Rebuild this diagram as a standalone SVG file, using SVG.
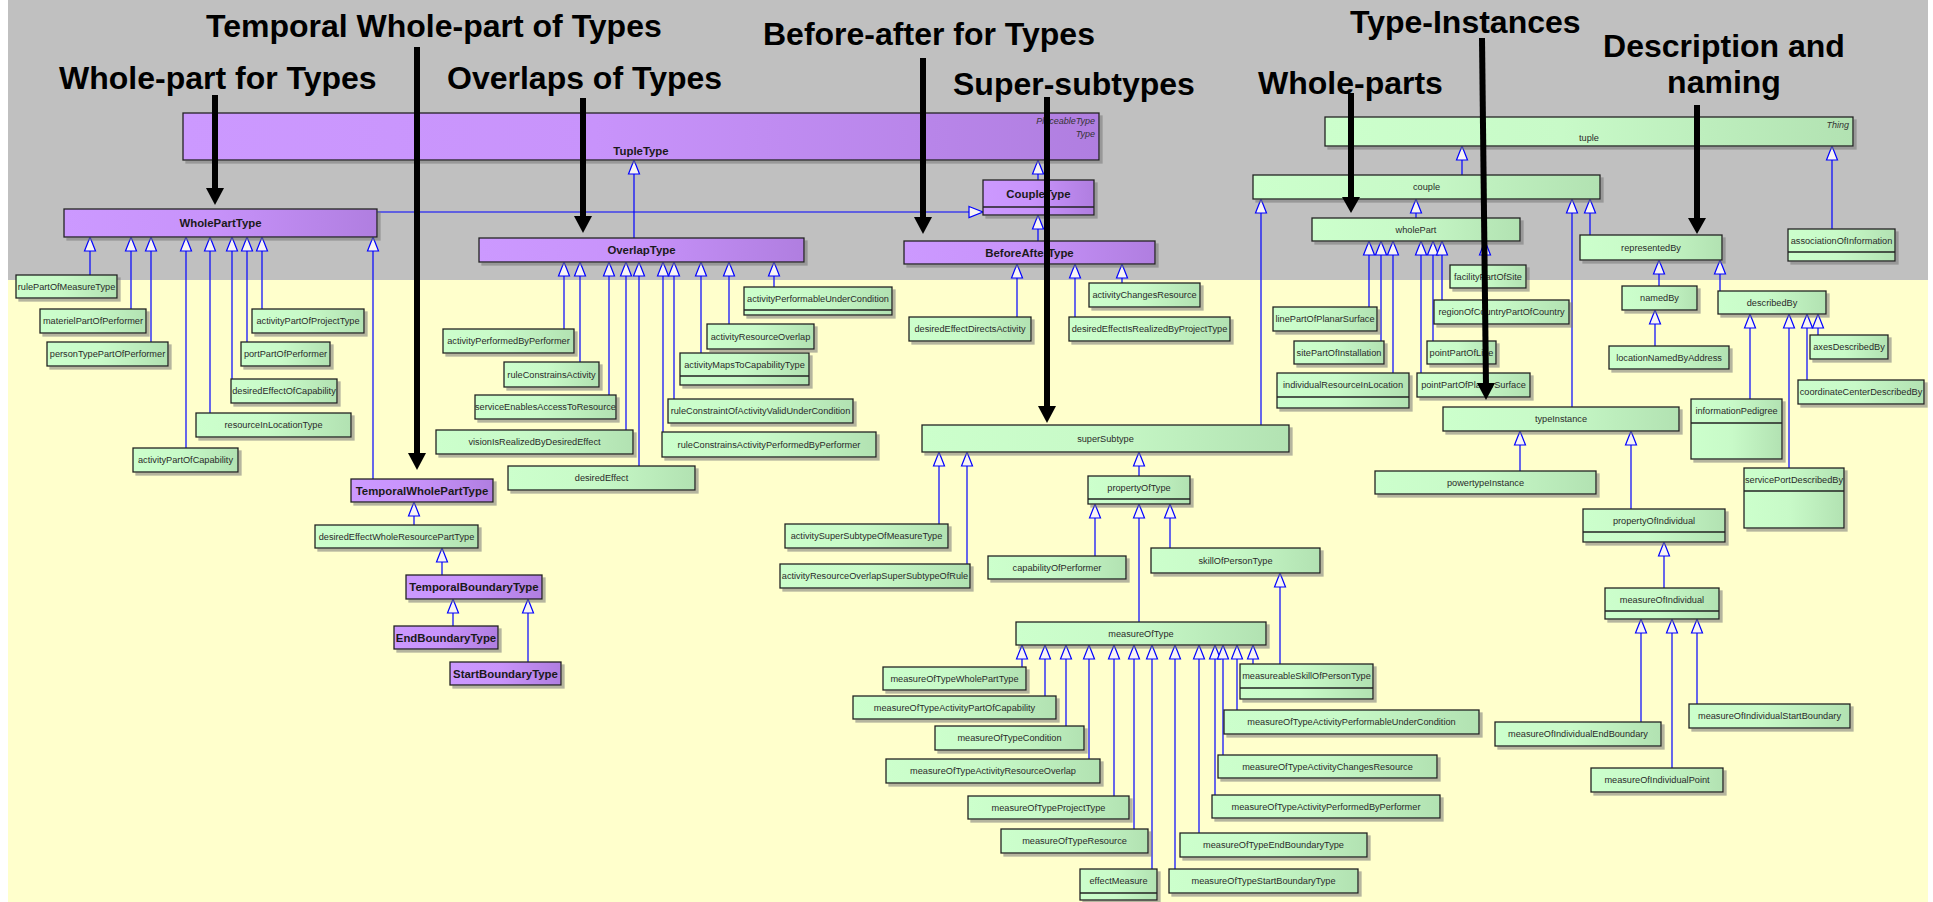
<svg xmlns="http://www.w3.org/2000/svg" width="1933" height="902" viewBox="0 0 1933 902">
<style>
  .p { fill: url(#gp); stroke: #222; stroke-width: 1.3; filter: url(#sh); }
  .g { fill: url(#gg); stroke: #222; stroke-width: 1.3; filter: url(#sh); }
  .dv { stroke: #222; stroke-width: 1.3; }
  .lb { font-family: "Liberation Sans", Arial, sans-serif; font-weight: bold; font-size: 11.4px; fill: #1a1a1a; text-anchor: middle; }
  .lg { font-family: "Liberation Sans", Arial, sans-serif; font-size: 9.2px; fill: #2a2a2a; text-anchor: middle; }
  .st { font-family: "Liberation Sans", Arial, sans-serif; font-style: italic; font-size: 9px; fill: #333; text-anchor: end; }
  .e { fill: none; stroke: #0000ff; stroke-width: 1.2; marker-end: url(#gen); }
  .title { font-family: "Liberation Sans", Arial, sans-serif; font-weight: bold; font-size: 32px; fill: #000; }
  .call { stroke: #000; stroke-width: 6; fill: none; }
  .head { fill: #000; }
</style>
<defs>
  <linearGradient id="gp" x1="0" y1="0" x2="1" y2="0">
    <stop offset="0" stop-color="#cc99ff"/>
    <stop offset="0.45" stop-color="#c893fb"/>
    <stop offset="1" stop-color="#b07ee0"/>
  </linearGradient>
  <linearGradient id="gg" x1="0" y1="0" x2="1" y2="0">
    <stop offset="0" stop-color="#ccffcc"/>
    <stop offset="0.45" stop-color="#c8fac8"/>
    <stop offset="1" stop-color="#b2e2b2"/>
  </linearGradient>
  <filter id="sh" x="-5%" y="-20%" width="115%" height="170%">
    <feDropShadow dx="3" dy="3" stdDeviation="0.6" flood-color="#777" flood-opacity="0.55"/>
  </filter>
  <!-- hollow generalization triangle -->
  <marker id="gen" markerUnits="userSpaceOnUse" markerWidth="16" markerHeight="14" viewBox="-1 -7 16 14" refX="14" refY="0" orient="auto">
    <path d="M0,-5.5 L14,0 L0,5.5 Z" fill="#f8f4f4" stroke="#0000ff" stroke-width="1.2"/>
  </marker>
</defs>

<!-- backdrop -->
<rect x="0" y="0" width="1933" height="902" fill="#ffffff"/>
<rect x="8" y="0" width="1920" height="280" fill="#c0c0c0"/>
<rect x="8" y="280" width="1920" height="622" fill="#ffffcc"/>

<!-- connectors -->
<g id="connectors">
  <path class="e" d="M377,212 H983"/>
  <path class="e" d="M90,275 V237"/>
  <path class="e" d="M131,309 V237"/>
  <path class="e" d="M151,342 V237"/>
  <path class="e" d="M186,448 V237"/>
  <path class="e" d="M210,413 V237"/>
  <path class="e" d="M232,379 V237"/>
  <path class="e" d="M247,342 V237"/>
  <path class="e" d="M262,309 V237"/>
  <path class="e" d="M373,479 V237"/>
  <path class="e" d="M414,525 V502"/>
  <path class="e" d="M442,575 V548"/>
  <path class="e" d="M453,626 V599"/>
  <path class="e" d="M528,662 V599"/>
  <path class="e" d="M634,238 V160"/>
  <path class="e" d="M1038,180 V160"/>
  <path class="e" d="M1038,241 V215"/>
  <path class="e" d="M564,329 V262"/>
  <path class="e" d="M580,362 V262"/>
  <path class="e" d="M609,395 V262"/>
  <path class="e" d="M626,430 V262"/>
  <path class="e" d="M639,466 V262"/>
  <path class="e" d="M663,432 V262"/>
  <path class="e" d="M674,399 V262"/>
  <path class="e" d="M701,353 V262"/>
  <path class="e" d="M729,324 V262"/>
  <path class="e" d="M774,287 V262"/>
  <path class="e" d="M1017,317 V264"/>
  <path class="e" d="M1075,317 V264"/>
  <path class="e" d="M1122,283 V264"/>
  <path class="e" d="M1462,175 V146"/>
  <path class="e" d="M1832,229 V146"/>
  <path class="e" d="M1261,425 V199"/>
  <path class="e" d="M1416,218 V199"/>
  <path class="e" d="M1572,407 V199"/>
  <path class="e" d="M1590,235 V199"/>
  <path class="e" d="M1369,307 V241"/>
  <path class="e" d="M1381,341 V241"/>
  <path class="e" d="M1393,373 V241"/>
  <path class="e" d="M1421,373 V241"/>
  <path class="e" d="M1433,341 V241"/>
  <path class="e" d="M1442,300 V241"/>
  <path class="e" d="M1485,265 V241"/>
  <path class="e" d="M939,524 V452"/>
  <path class="e" d="M967,564 V452"/>
  <path class="e" d="M1139,476 V452"/>
  <path class="e" d="M1095,556 V504"/>
  <path class="e" d="M1139,622 V504"/>
  <path class="e" d="M1170,548 V504"/>
  <path class="e" d="M1280,664 V573"/>
  <path class="e" d="M1022,667 V645"/>
  <path class="e" d="M1045,696 V645"/>
  <path class="e" d="M1066,726 V645"/>
  <path class="e" d="M1089,759 V645"/>
  <path class="e" d="M1114,796 V645"/>
  <path class="e" d="M1134,829 V645"/>
  <path class="e" d="M1152,869 V645"/>
  <path class="e" d="M1175,869 V645"/>
  <path class="e" d="M1199,833 V645"/>
  <path class="e" d="M1215,795 V645"/>
  <path class="e" d="M1223,755 V645"/>
  <path class="e" d="M1237,710 V645"/>
  <path class="e" d="M1253,664 V645"/>
  <path class="e" d="M1520,471 V431"/>
  <path class="e" d="M1631,509 V431"/>
  <path class="e" d="M1664,588 V542"/>
  <path class="e" d="M1641,722 V619"/>
  <path class="e" d="M1672,768 V619"/>
  <path class="e" d="M1697,704 V619"/>
  <path class="e" d="M1659,286 V260"/>
  <path class="e" d="M1720,291 V260"/>
  <path class="e" d="M1655,346 V310"/>
  <path class="e" d="M1750,399 V314"/>
  <path class="e" d="M1789,468 V314"/>
  <path class="e" d="M1807,380 V314"/>
  <path class="e" d="M1818,335 V314"/>
</g>

<!-- type-level (purple) classes -->
<g id="TupleType"><rect class="p" x="183" y="113" width="916" height="47"/>
  <text class="st" x="1095" y="124">PlaceableType</text><text class="st" x="1095" y="137">Type</text>
  <text class="lb" x="641" y="155">TupleType</text></g>
<g id="WholePartType"><rect class="p" x="64" y="209" width="313" height="28"/><text class="lb" x="220.5" y="227">WholePartType</text></g>
<g id="OverlapType"><rect class="p" x="479" y="238" width="325" height="24"/><text class="lb" x="641.5" y="254">OverlapType</text></g>
<g id="CoupleType"><rect class="p" x="983" y="180" width="111" height="35"/><line class="dv" x1="983" y1="207" x2="1094" y2="207"/><text class="lb" x="1038.5" y="197.5">CoupleType</text></g>
<g id="BeforeAfterType"><rect class="p" x="904" y="241" width="251" height="23"/><text class="lb" x="1029.5" y="256.5">BeforeAfterType</text></g>
<g id="TemporalWholePartType"><rect class="p" x="351" y="479" width="142" height="23"/><text class="lb" x="422" y="494.5">TemporalWholePartType</text></g>
<g id="TemporalBoundaryType"><rect class="p" x="406" y="575" width="136" height="24"/><text class="lb" x="474" y="591">TemporalBoundaryType</text></g>
<g id="EndBoundaryType"><rect class="p" x="394" y="626" width="104" height="23"/><text class="lb" x="446" y="641.5">EndBoundaryType</text></g>
<g id="StartBoundaryType"><rect class="p" x="450" y="662" width="111" height="23"/><text class="lb" x="505.5" y="677.5">StartBoundaryType</text></g>

<!-- whole-part of types -->
<g id="rulePartOfMeasureType"><rect class="g" x="16" y="275" width="101" height="23"/><text class="lg" x="66.5" y="289.8">rulePartOfMeasureType</text></g>
<g id="materielPartOfPerformer"><rect class="g" x="40" y="309" width="106" height="24"/><text class="lg" x="93" y="324.3">materielPartOfPerformer</text></g>
<g id="personTypePartOfPerformer"><rect class="g" x="47" y="342" width="121" height="24"/><text class="lg" x="107.5" y="357.3">personTypePartOfPerformer</text></g>
<g id="activityPartOfProjectType"><rect class="g" x="252" y="309" width="112" height="24"/><text class="lg" x="308" y="324.3">activityPartOfProjectType</text></g>
<g id="portPartOfPerformer"><rect class="g" x="241" y="342" width="89" height="24"/><text class="lg" x="285.5" y="357.3">portPartOfPerformer</text></g>
<g id="desiredEffectOfCapability"><rect class="g" x="231" y="379" width="106" height="24"/><text class="lg" x="284" y="394.3">desiredEffectOfCapability</text></g>
<g id="resourceInLocationType"><rect class="g" x="196" y="413" width="155" height="24"/><text class="lg" x="273.5" y="428.3">resourceInLocationType</text></g>
<g id="activityPartOfCapability"><rect class="g" x="133" y="448" width="105" height="24"/><text class="lg" x="185.5" y="463.3">activityPartOfCapability</text></g>
<g id="desiredEffectWholeResourcePartType"><rect class="g" x="315" y="525" width="163" height="23"/><text class="lg" x="396.5" y="539.8">desiredEffectWholeResourcePartType</text></g>

<!-- overlaps of types -->
<g id="activityPerformableUnderCondition"><rect class="g" x="744" y="287" width="148" height="28"/><line class="dv" x1="744" y1="310" x2="892" y2="310"/><text class="lg" x="818" y="301.8">activityPerformableUnderCondition</text></g>
<g id="activityPerformedByPerformer"><rect class="g" x="443" y="329" width="131" height="24"/><text class="lg" x="508.5" y="344.3">activityPerformedByPerformer</text></g>
<g id="ruleConstrainsActivity"><rect class="g" x="504" y="362" width="95" height="25"/><text class="lg" x="551.5" y="377.8">ruleConstrainsActivity</text></g>
<g id="serviceEnablesAccessToResource"><rect class="g" x="475" y="395" width="141" height="24"/><text class="lg" x="545.5" y="410.3">serviceEnablesAccessToResource</text></g>
<g id="visionIsRealizedByDesiredEffect"><rect class="g" x="436" y="430" width="197" height="24"/><text class="lg" x="534.5" y="445.3">visionIsRealizedByDesiredEffect</text></g>
<g id="desiredEffect"><rect class="g" x="508" y="466" width="187" height="24"/><text class="lg" x="601.5" y="481.3">desiredEffect</text></g>
<g id="ruleConstrainsActivityPerformedByPerformer"><rect class="g" x="662" y="432" width="214" height="25"/><text class="lg" x="769" y="447.8">ruleConstrainsActivityPerformedByPerformer</text></g>
<g id="ruleConstraintOfActivityValidUnderCondition"><rect class="g" x="668" y="399" width="185" height="24"/><text class="lg" x="760.5" y="414.3">ruleConstraintOfActivityValidUnderCondition</text></g>
<g id="activityMapsToCapabilityType"><rect class="g" x="680" y="353" width="129" height="32"/><line class="dv" x1="680" y1="376" x2="809" y2="376"/><text class="lg" x="744.5" y="367.8">activityMapsToCapabilityType</text></g>
<g id="activityResourceOverlap"><rect class="g" x="707" y="324" width="107" height="25"/><text class="lg" x="760.5" y="339.8">activityResourceOverlap</text></g>

<!-- before-after of types -->
<g id="activityChangesResource"><rect class="g" x="1089" y="283" width="111" height="24"/><text class="lg" x="1144.5" y="298.3">activityChangesResource</text></g>
<g id="desiredEffectDirectsActivity"><rect class="g" x="909" y="317" width="122" height="24"/><text class="lg" x="970" y="332.3">desiredEffectDirectsActivity</text></g>
<g id="desiredEffectIsRealizedByProjectType"><rect class="g" x="1069" y="317" width="161" height="24"/><text class="lg" x="1149.5" y="332.3">desiredEffectIsRealizedByProjectType</text></g>

<!-- super-subtypes -->
<g id="superSubtype"><rect class="g" x="922" y="425" width="367" height="27"/><text class="lg" x="1105.5" y="441.8">superSubtype</text></g>
<g id="activitySuperSubtypeOfMeasureType"><rect class="g" x="785" y="524" width="163" height="24"/><text class="lg" x="866.5" y="539.3">activitySuperSubtypeOfMeasureType</text></g>
<g id="activityResourceOverlapSuperSubtypeOfRule"><rect class="g" x="780" y="564" width="190" height="24"/><text class="lg" x="875" y="579.3">activityResourceOverlapSuperSubtypeOfRule</text></g>
<g id="propertyOfType"><rect class="g" x="1088" y="476" width="102" height="28"/><line class="dv" x1="1088" y1="499" x2="1190" y2="499"/><text class="lg" x="1139" y="490.8">propertyOfType</text></g>
<g id="capabilityOfPerformer"><rect class="g" x="988" y="556" width="138" height="23"/><text class="lg" x="1057" y="570.8">capabilityOfPerformer</text></g>
<g id="skillOfPersonType"><rect class="g" x="1151" y="548" width="169" height="25"/><text class="lg" x="1235.5" y="563.8">skillOfPersonType</text></g>
<g id="measureOfType"><rect class="g" x="1016" y="622" width="250" height="23"/><text class="lg" x="1141" y="636.8">measureOfType</text></g>
<g id="measureableSkillOfPersonType"><rect class="g" x="1240" y="664" width="133" height="35"/><line class="dv" x1="1240" y1="688" x2="1373" y2="688"/><text class="lg" x="1306.5" y="679.3">measureableSkillOfPersonType</text></g>
<g id="measureOfTypeWholePartType"><rect class="g" x="883" y="667" width="143" height="23"/><text class="lg" x="954.5" y="681.8">measureOfTypeWholePartType</text></g>
<g id="measureOfTypeActivityPartOfCapability"><rect class="g" x="853" y="696" width="203" height="23"/><text class="lg" x="954.5" y="710.8">measureOfTypeActivityPartOfCapability</text></g>
<g id="measureOfTypeCondition"><rect class="g" x="935" y="726" width="149" height="24"/><text class="lg" x="1009.5" y="741.3">measureOfTypeCondition</text></g>
<g id="measureOfTypeActivityResourceOverlap"><rect class="g" x="886" y="759" width="214" height="24"/><text class="lg" x="993" y="774.3">measureOfTypeActivityResourceOverlap</text></g>
<g id="measureOfTypeProjectType"><rect class="g" x="968" y="796" width="161" height="23"/><text class="lg" x="1048.5" y="810.8">measureOfTypeProjectType</text></g>
<g id="measureOfTypeResource"><rect class="g" x="1001" y="829" width="147" height="24"/><text class="lg" x="1074.5" y="844.3">measureOfTypeResource</text></g>
<g id="effectMeasure"><rect class="g" x="1080" y="869" width="77" height="31"/><line class="dv" x1="1080" y1="893" x2="1157" y2="893"/><text class="lg" x="1118.5" y="884.3">effectMeasure</text></g>
<g id="measureOfTypeStartBoundaryType"><rect class="g" x="1169" y="869" width="189" height="24"/><text class="lg" x="1263.5" y="884.3">measureOfTypeStartBoundaryType</text></g>
<g id="measureOfTypeEndBoundaryType"><rect class="g" x="1180" y="833" width="187" height="24"/><text class="lg" x="1273.5" y="848.3">measureOfTypeEndBoundaryType</text></g>
<g id="measureOfTypeActivityPerformedByPerformer"><rect class="g" x="1212" y="795" width="228" height="23"/><text class="lg" x="1326" y="809.8">measureOfTypeActivityPerformedByPerformer</text></g>
<g id="measureOfTypeActivityChangesResource"><rect class="g" x="1218" y="755" width="219" height="23"/><text class="lg" x="1327.5" y="769.8">measureOfTypeActivityChangesResource</text></g>
<g id="measureOfTypeActivityPerformableUnderCondition"><rect class="g" x="1224" y="710" width="255" height="24"/><text class="lg" x="1351.5" y="725.3">measureOfTypeActivityPerformableUnderCondition</text></g>

<!-- individual-level tuples -->
<g id="tuple"><rect class="g" x="1325" y="117" width="528" height="29"/><text class="st" x="1849" y="128">Thing</text><text class="lg" x="1589" y="141">tuple</text></g>
<g id="couple"><rect class="g" x="1253" y="175" width="347" height="24"/><text class="lg" x="1426.5" y="190.3">couple</text></g>
<g id="wholePart"><rect class="g" x="1312" y="218" width="208" height="23"/><text class="lg" x="1416" y="232.8">wholePart</text></g>
<g id="linePartOfPlanarSurface"><rect class="g" x="1273" y="307" width="104" height="24"/><text class="lg" x="1325" y="322.3">linePartOfPlanarSurface</text></g>
<g id="sitePartOfInstallation"><rect class="g" x="1294" y="341" width="90" height="23"/><text class="lg" x="1339" y="355.8">sitePartOfInstallation</text></g>
<g id="individualResourceInLocation"><rect class="g" x="1277" y="373" width="132" height="35"/><line class="dv" x1="1277" y1="397" x2="1409" y2="397"/><text class="lg" x="1343" y="388.3">individualResourceInLocation</text></g>
<g id="pointPartOfLine"><rect class="g" x="1427" y="341" width="69" height="23"/><text class="lg" x="1461.5" y="355.8">pointPartOfLine</text></g>
<g id="pointPartOfPlanarSurface"><rect class="g" x="1417" y="373" width="113" height="24"/><text class="lg" x="1473.5" y="388.3">pointPartOfPlanarSurface</text></g>
<g id="regionOfCountryPartOfCountry"><rect class="g" x="1434" y="300" width="135" height="24"/><text class="lg" x="1501.5" y="315.3">regionOfCountryPartOfCountry</text></g>
<g id="facilityPartOfSite"><rect class="g" x="1450" y="265" width="76" height="23"/><text class="lg" x="1488" y="279.8">facilityPartOfSite</text></g>
<g id="typeInstance"><rect class="g" x="1443" y="407" width="236" height="24"/><text class="lg" x="1561" y="422.3">typeInstance</text></g>
<g id="powertypeInstance"><rect class="g" x="1375" y="471" width="221" height="23"/><text class="lg" x="1485.5" y="485.8">powertypeInstance</text></g>
<g id="propertyOfIndividual"><rect class="g" x="1583" y="509" width="142" height="33"/><line class="dv" x1="1583" y1="532" x2="1725" y2="532"/><text class="lg" x="1654" y="523.8">propertyOfIndividual</text></g>
<g id="measureOfIndividual"><rect class="g" x="1605" y="588" width="114" height="31"/><line class="dv" x1="1605" y1="611" x2="1719" y2="611"/><text class="lg" x="1662" y="602.8">measureOfIndividual</text></g>
<g id="measureOfIndividualEndBoundary"><rect class="g" x="1495" y="722" width="166" height="24"/><text class="lg" x="1578" y="737.3">measureOfIndividualEndBoundary</text></g>
<g id="measureOfIndividualPoint"><rect class="g" x="1591" y="768" width="132" height="24"/><text class="lg" x="1657" y="783.3">measureOfIndividualPoint</text></g>
<g id="measureOfIndividualStartBoundary"><rect class="g" x="1689" y="704" width="161" height="24"/><text class="lg" x="1769.5" y="719.3">measureOfIndividualStartBoundary</text></g>

<!-- description and naming -->
<g id="representedBy"><rect class="g" x="1580" y="235" width="142" height="25"/><text class="lg" x="1651" y="250.8">representedBy</text></g>
<g id="associationOfInformation"><rect class="g" x="1788" y="229" width="107" height="32"/><line class="dv" x1="1788" y1="252" x2="1895" y2="252"/><text class="lg" x="1841.5" y="243.8">associationOfInformation</text></g>
<g id="namedBy"><rect class="g" x="1622" y="286" width="75" height="24"/><text class="lg" x="1659.5" y="301.3">namedBy</text></g>
<g id="describedBy"><rect class="g" x="1718" y="291" width="108" height="23"/><text class="lg" x="1772" y="305.8">describedBy</text></g>
<g id="locationNamedByAddress"><rect class="g" x="1609" y="346" width="120" height="23"/><text class="lg" x="1669" y="360.8">locationNamedByAddress</text></g>
<g id="informationPedigree"><rect class="g" x="1691" y="399" width="91" height="60"/><line class="dv" x1="1691" y1="423" x2="1782" y2="423"/><text class="lg" x="1736.5" y="414.3">informationPedigree</text></g>
<g id="servicePortDescribedBy"><rect class="g" x="1744" y="468" width="100" height="60"/><line class="dv" x1="1744" y1="491" x2="1844" y2="491"/><text class="lg" x="1794" y="482.8">servicePortDescribedBy</text></g>
<g id="coordinateCenterDescribedBy"><rect class="g" x="1798" y="380" width="126" height="24"/><text class="lg" x="1861" y="395.3">coordinateCenterDescribedBy</text></g>
<g id="axesDescribedBy"><rect class="g" x="1810" y="335" width="78" height="24"/><text class="lg" x="1849" y="350.3">axesDescribedBy</text></g>

<!-- section headings with pointer arrows -->
<g id="headings">
  <text class="title" x="206" y="37">Temporal Whole-part of Types</text>
  <text class="title" x="59" y="89">Whole-part for Types</text>
  <text class="title" x="447" y="89">Overlaps of Types</text>
  <text class="title" x="763" y="45">Before-after for Types</text>
  <text class="title" x="953" y="95">Super-subtypes</text>
  <text class="title" x="1258" y="94">Whole-parts</text>
  <text class="title" x="1350" y="33">Type-Instances</text>
  <text class="title" x="1724" y="57" text-anchor="middle">Description and</text>
  <text class="title" x="1724" y="93" text-anchor="middle">naming</text>

  <line class="call" x1="215" y1="95" x2="215" y2="192"/><polygon class="head" points="206,188 224,188 215,205"/>
  <line class="call" x1="417" y1="47" x2="417" y2="457"/><polygon class="head" points="408,453 426,453 417,470"/>
  <line class="call" x1="583" y1="98" x2="583" y2="220"/><polygon class="head" points="574,216 592,216 583,233"/>
  <line class="call" x1="923" y1="58" x2="923" y2="221"/><polygon class="head" points="914,217 932,217 923,234"/>
  <line class="call" x1="1047" y1="97" x2="1047" y2="410"/><polygon class="head" points="1038,406 1056,406 1047,423"/>
  <line class="call" x1="1351" y1="93" x2="1351" y2="200"/><polygon class="head" points="1342,197 1360,197 1351,213"/>
  <line class="call" x1="1482" y1="38" x2="1486" y2="387"/><polygon class="head" points="1477,383 1495,383 1486,400"/>
  <line class="call" x1="1697" y1="105" x2="1697" y2="221"/><polygon class="head" points="1688,218 1706,218 1697,234"/>
</g>
</svg>
